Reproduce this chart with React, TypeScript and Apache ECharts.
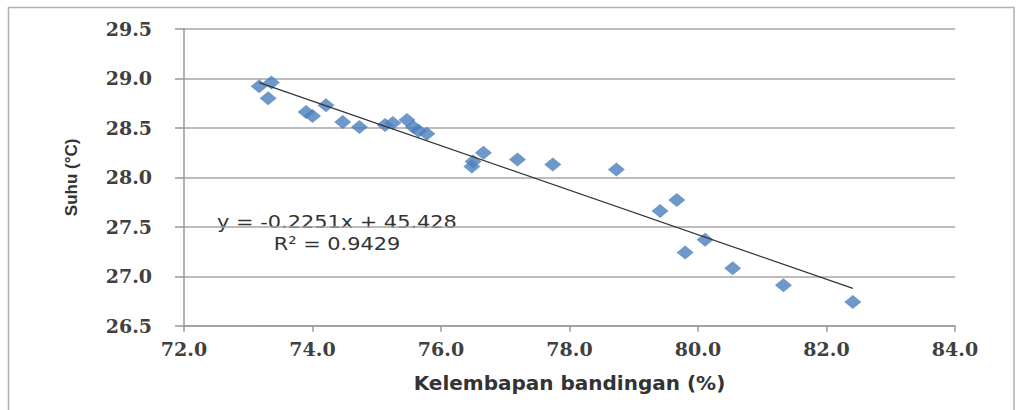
import React, { useEffect, useRef } from "react";
import * as echarts from "echarts";

const humidity = [
  73.17, 73.36, 73.31, 73.9, 74.0, 74.21, 74.47, 74.73, 75.13, 75.25, 75.47, 75.57, 75.65, 75.78,
  76.66, 76.5, 76.48, 77.19, 77.74, 78.73, 79.67, 79.41, 80.11, 79.8, 80.54, 81.33, 82.41,
];
const temperature = [
  28.92, 28.96, 28.8, 28.66, 28.62, 28.73, 28.56, 28.51, 28.53, 28.55, 28.58, 28.51, 28.47, 28.44,
  28.25, 28.16, 28.11, 28.18, 28.13, 28.08, 27.77, 27.66, 27.37, 27.24, 27.08, 26.91, 26.74,
];
const SLOPE = -0.2251;
const INTERCEPT = 45.428;
const equationLabel = "y = -0.2251x + 45.428";
const r2Label = "R² = 0.9429";
const xAxisTitle = "Kelembapan bandingan (%)";
const yAxisTitle = "Suhu (°C)";

export default function App() {
  const ref = useRef<HTMLDivElement>(null);
  useEffect(() => {
    if (!ref.current) return;
    const chart = echarts.init(ref.current, null, { renderer: "svg" });
    const pts = humidity.map((x, i) => [x, temperature[i]]);
    const minX = Math.min(...humidity);
    const maxX = Math.max(...humidity);
    const trend = [
      [minX, SLOPE * minX + INTERCEPT],
      [maxX, SLOPE * maxX + INTERCEPT],
    ];
    const labelStyle = {
      fontFamily: "DejaVu Serif",
      fontWeight: "bold" as const,
      fontSize: 19,
      color: "#404040",
    };
    const eqStyle = {
      fontFamily: "DejaVu Sans",
      fontSize: 18,
      fill: "#333333",
      align: "center" as const,
      verticalAlign: "middle" as const,
    };
    chart.setOption({
      animation: false,
      backgroundColor: "#ffffff",
      grid: { left: 184, right: 62, top: 29, bottom: 84.3 },
      xAxis: {
        type: "value",
        min: 72,
        max: 84,
        interval: 2,
        name: xAxisTitle,
        nameLocation: "middle",
        nameGap: 47,
        nameTextStyle: {
          fontFamily: "DejaVu Sans",
          fontWeight: "bold",
          fontSize: 20,
          color: "#333333",
        },
        axisLine: { show: true, lineStyle: { color: "#999999", width: 1.5 } },
        axisTick: { show: true, length: 6, lineStyle: { color: "#999999", width: 1.5 } },
        axisLabel: { ...labelStyle, margin: 14, formatter: (v: number) => v.toFixed(1) },
        splitLine: { show: false },
      },
      yAxis: {
        type: "value",
        min: 26.5,
        max: 29.5,
        interval: 0.5,
        name: yAxisTitle,
        nameLocation: "middle",
        nameGap: 104,
        nameTextStyle: {
          fontFamily: "Liberation Sans",
          fontWeight: "bold",
          fontSize: 17,
          color: "#333333",
        },
        axisLine: { show: true, lineStyle: { color: "#999999", width: 1.5 } },
        axisTick: { show: true, length: 9, lineStyle: { color: "#999999", width: 1.5 } },
        axisLabel: { ...labelStyle, margin: 32, formatter: (v: number) => v.toFixed(1) },
        splitLine: { show: true, lineStyle: { color: "#a6a6a6", width: 1.5 } },
      },
      graphic: [
        {
          type: "rect",
          shape: { x: 8.5, y: 7.5, width: 1005.5, height: 420 },
          style: { fill: "none", stroke: "#b0b0b0", lineWidth: 1.5 },
          silent: true,
        },
        {
          type: "text",
          x: 337,
          y: 222,
          scaleX: 1.16,
          style: { ...eqStyle, text: equationLabel },
        },
        {
          type: "text",
          x: 337,
          y: 244,
          scaleX: 1.16,
          style: { ...eqStyle, text: r2Label },
        },
      ],
      series: [
        {
          type: "scatter",
          data: pts,
          symbol: "diamond",
          symbolSize: [17, 14],
          itemStyle: { color: "#4a7ebb" },
        },
        {
          type: "line",
          data: trend,
          symbol: "none",
          lineStyle: { color: "#333333", width: 1.2 },
        },
      ],
    });
    return () => chart.dispose();
  }, []);
  return (
    <>
      <style>{`body{margin:0;}`}</style>
      <div ref={ref} style={{ width: 1017, height: 410 }} />
    </>
  );
}
